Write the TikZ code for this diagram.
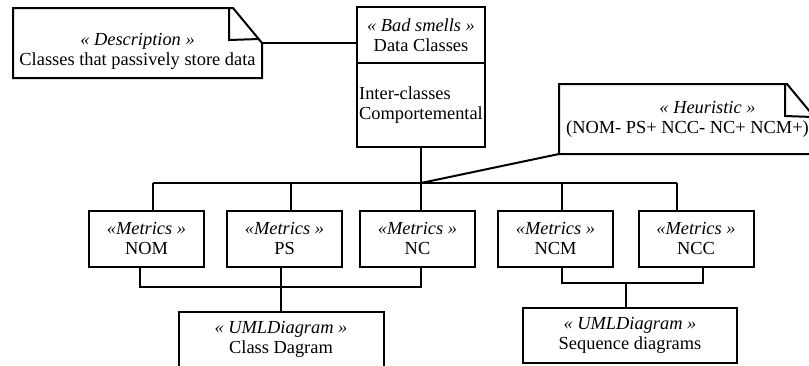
\documentclass[tikz,border=0pt]{standalone}
\usepackage{fontspec}
\setmainfont{Liberation Serif}
\usetikzlibrary{calc,positioning}

\begin{document}
\begin{tikzpicture}[x=0.5pt,y=-0.5pt,line width=1pt,
  every node/.style={font=\fontsize{9.2}{10}\selectfont},
  box/.style={draw,rectangle,align=center,inner sep=0pt,outer sep=0pt},
  metric/.style={box,minimum width=57.5pt,minimum height=28pt},
  uml/.style={box,minimum height=27.5pt},
  note/.style={rectangle,align=center,inner sep=0pt,outer sep=0pt,minimum height=35pt}]

  \path[use as bounding box,clip] (0,0) rectangle (809,365);

  % notes
  \node[note,minimum width=124.5pt] (desc) at (137.5,43)
    {\rule{0pt}{14pt}\textit{« Description »}\\Classes that passively store data};
  \draw (desc.north west) -- ($(desc.north east)+(-29,0)$) -- (desc.east) -- (desc.south east) -- (desc.south west) -- cycle;
  \draw ($(desc.north east)+(-33,0)$) -- ++(0,32) -- ($(desc.north east)+(-3,31)$);

  \node[note,minimum width=128.5pt] (heur) at (687.5,119)
    {\hspace*{20pt}\textit{« Heuristic »}\\(NOM- PS+ NCC- NC+ NCM+)};
  \draw (heur.north west) -- ($(heur.north east)+(-29,0)$) -- (heur.east) -- (heur.south east) -- (heur.south west) -- cycle;
  \draw ($(heur.north east)+(-31,0)$) -- ++(0,32) -- ($(heur.north east)+(-3,33)$);

  % bad smell
  \node[box,minimum width=64pt,minimum height=28pt] (smell) at (421,35) {\textit{« Bad smells »}\\Data Classes};
  \node[box,below=0pt of smell,minimum width=64pt,minimum height=42pt,align=left] (smellbody) {Inter-classes\\Comportemental};

  % metrics
  \node[metric] (nom) at (146.5,238.5) {\textit{«Metrics »}\\NOM};
  \node[metric] (ps)  at (284.5,238.5) {\textit{«Metrics »}\\PS};
  \node[metric] (nc)  at (417.5,238.5) {\textit{«Metrics »}\\NC};
  \node[metric] (ncm) at (555.5,238.5) {\textit{«Metrics »}\\NCM};
  \node[metric] (ncc) at (696,238.5)   {\textit{«Metrics »}\\NCC};

  \node[uml,minimum width=102.5pt] (classd) at (281,339.5) {\textit{« UMLDiagram »}\\Class Dagram};
  \node[uml,minimum width=107pt] (seqd) at (630,335.5) {\textit{« UMLDiagram »}\\Sequence diagrams};

  \coordinate (hub) at (421,183);
  \coordinate (lowl) at (140,287);
  \coordinate (lowr) at (421,287);
  \coordinate (lowm) at (562,283);
  \coordinate (lown) at (703,283);
  \coordinate (seqm) at (626,283);

  \draw (desc.east) -- (desc.east -| smell.west);
  \draw (smellbody.south) -- (hub);
  \draw (heur.south west) -- (hub);
  \draw (153,183) -- (677,183);
  \foreach \x/\n in {153/nom,291/ps,421/nc,562/ncm,677/ncc}
    \draw (\x,183) -- (\x,183 |- \n.north);

  \draw (lowl |- nom.south) -- (lowl) -- (lowr) -- (lowr |- nc.south);
  \draw (classd.north |- ps.south) -- (classd.north);
  \draw (lowm |- ncm.south) -- (lowm) -- (lown) -- (lown |- ncc.south);
  \draw (seqm) -- (seqm |- seqd.north);
  %\draw (nc.south) -- (classd.north);

\end{tikzpicture}
\end{document}
